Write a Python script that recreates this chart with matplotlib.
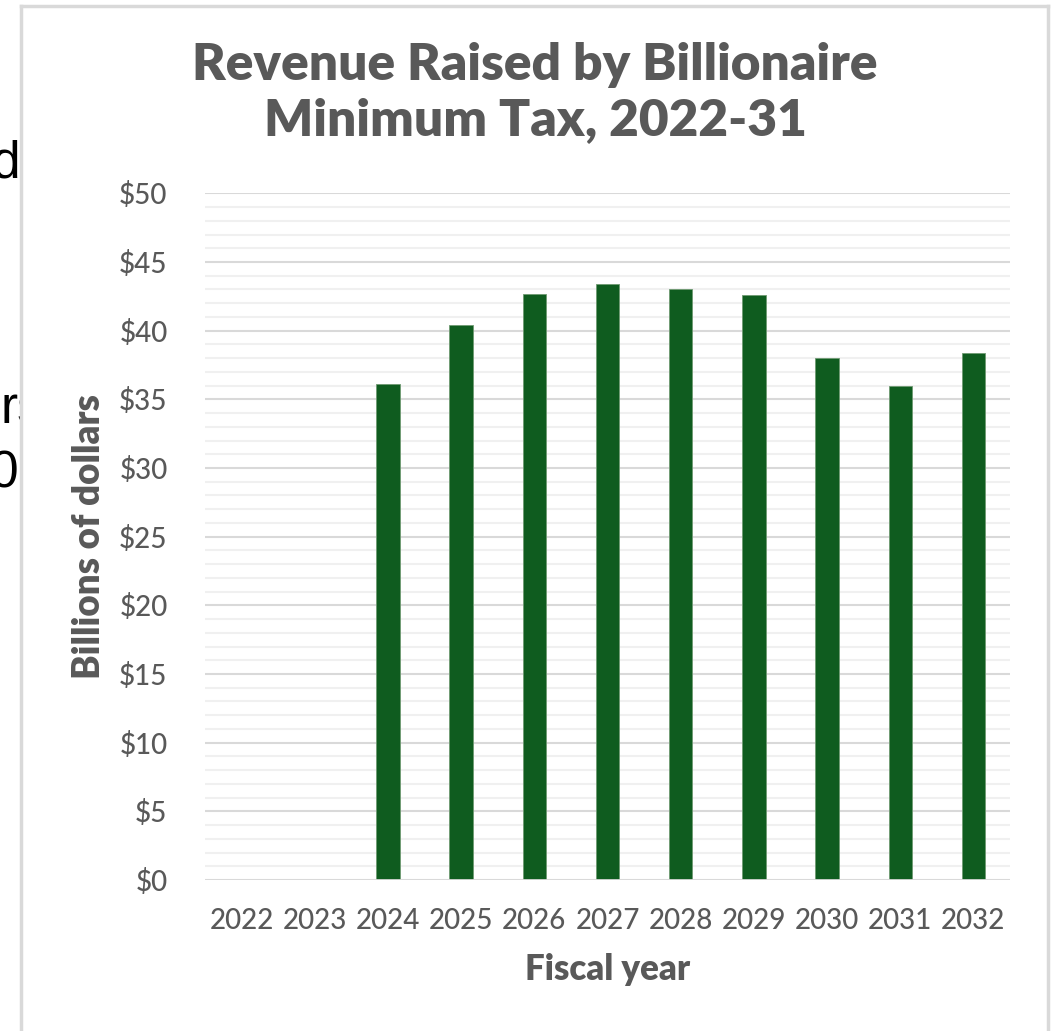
import matplotlib
matplotlib.use("Agg")
import matplotlib.pyplot as plt
from matplotlib.lines import Line2D
from matplotlib.ticker import MultipleLocator, FuncFormatter

# ---- data ----
years = ["2022", "2023", "2024", "2025", "2026", "2027", "2028", "2029", "2030", "2031", "2032"]
revenue = [0, 0, 36.1, 40.4, 42.7, 43.4, 43.0, 42.6, 38.0, 36.0, 38.4]
title = "Revenue Raised by Billionaire\nMinimum Tax, 2022-31"
y_label = "Billions of dollars"
x_label = "Fiscal year"
y_ticks = [0, 5, 10, 15, 20, 25, 30, 35, 40, 45, 50]

W, H = 1056, 1031
fig = plt.figure(figsize=(W / 100, H / 100), dpi=100)
fig.patch.set_facecolor("white")

def fx(px):
    return px / W

def fy(py):
    return 1 - py / H

TXT = "#595959"
FONT = ["Lato", "DejaVu Sans"]

ax = fig.add_axes([fx(205), fy(880), fx(1010) - fx(205), fy(193.3) - fy(880)])
x = list(range(len(years)))
ax.bar(x, revenue, width=0.32, color="#0f5c1f", edgecolor="#6f9a72", linewidth=0.6, zorder=3)
ax.set_xlim(-0.5, len(years) - 0.5)
ax.set_ylim(0, 50)
ax.set_yticks(y_ticks)
ax.yaxis.set_minor_locator(MultipleLocator(1))
ax.yaxis.set_major_formatter(FuncFormatter(lambda v, p: f"${v:.0f}"))
ax.set_xticks(x)
ax.set_xticklabels(years)
ax.grid(axis="y", which="minor", color="#f0f0f0", linewidth=1.5, zorder=0)
ax.grid(axis="y", which="major", color="#d9d9d9", linewidth=1.5, zorder=1)
for s in ["top", "right", "left", "bottom"]:
    ax.spines[s].set_visible(False)
ax.axhline(0, color="#d9d9d9", linewidth=2, zorder=4)
ax.tick_params(axis="both", which="both", length=0)
ax.tick_params(axis="y", pad=27)
ax.tick_params(axis="x", pad=20)
for lab in ax.get_xticklabels() + ax.get_yticklabels():
    lab.set_fontfamily(FONT)
    lab.set_fontsize(20)
    lab.set_color(TXT)
    lab.set_fontweight("medium")

ax.set_ylabel(y_label, fontsize=26.5, fontweight="heavy", color=TXT, family=FONT, labelpad=9)
ax.set_xlabel(x_label, fontsize=25, fontweight="heavy", color=TXT, family=FONT, labelpad=14)

fig.text(fx(535), fy(42), title, ha="center", va="top", fontsize=37, fontweight="heavy",
         color=TXT, family=FONT, linespacing=1.25)

# chart border (frame of the embedded chart)
bc = "#d9d9d9"
fig.add_artist(Line2D([fx(21), fx(21)], [fy(6), 0], transform=fig.transFigure, color=bc, lw=2.5))
fig.add_artist(Line2D([fx(21), fx(1048)], [fy(6), fy(6)], transform=fig.transFigure, color=bc, lw=2.5))
fig.add_artist(Line2D([fx(1048), fx(1048)], [fy(6), 0], transform=fig.transFigure, color=bc, lw=2.5))

# stray clipped text at left edge of the screenshot
axl = fig.add_axes([0, 0, fx(20), 1])
axl.set_axis_off()
axl.set_xlim(0, 20)
axl.set_ylim(H, 0)
stray_font = ["Liberation Sans", "DejaVu Sans"]
axl.text(20, 178, "d", ha="right", va="baseline", fontsize=37, color="black", family=stray_font, clip_on=True)
axl.text(0, 423, "rs", ha="left", va="baseline", fontsize=37, color="black", family=stray_font, clip_on=True)
axl.text(19, 487, "0", ha="right", va="baseline", fontsize=37, color="black", family=stray_font, clip_on=True)

fig.savefig("out.png", dpi=100, facecolor="white")
